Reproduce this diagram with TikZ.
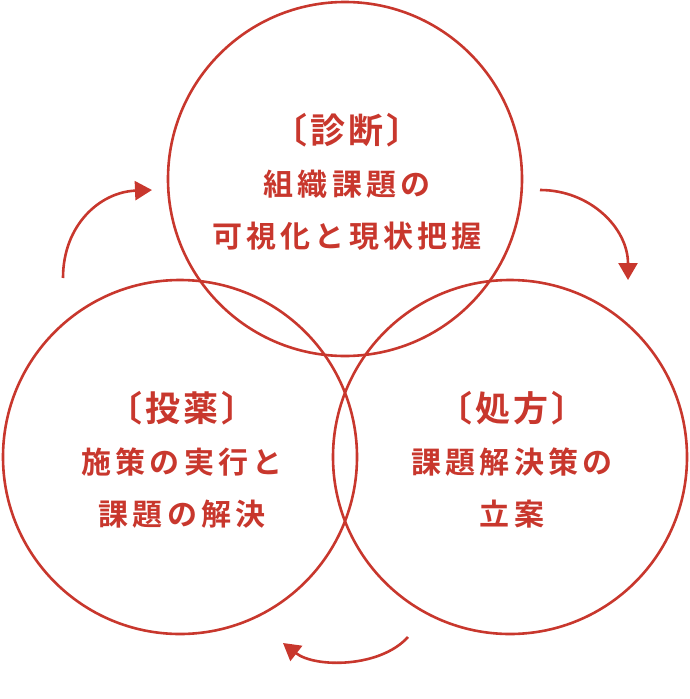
\documentclass[tikz,border=0pt]{standalone}
\usepackage{fontspec}
\newfontfamily\cjk{Noto Sans CJK JP}[BoldFont={Noto Sans CJK JP Bold}, LetterSpace=14]
\newfontfamily\cjkhead{Noto Sans CJK JP}[BoldFont={Noto Sans CJK JP Bold}, LetterSpace=8]
\usetikzlibrary{arrows.meta}
\definecolor{stepred}{HTML}{C8372D}
\newcommand{\headline}[1]{{\cjkhead\bfseries\fontsize{35}{38}\selectfont #1}}

\begin{document}
\begin{tikzpicture}[x=1pt,y=-1pt]
\tikzset{ring/.style={draw=stepred, line width=2.6pt, circle, minimum size=354pt, inner sep=0pt},
  label text/.style={text=stepred, font=\cjk\bfseries\fontsize{30}{52}\selectfont, align=center},
  cycle arrow/.style={draw=stepred, line width=2.6pt, -{Triangle[length=17pt,width=19pt]}}
}
\useasboundingbox (0,0) rectangle (690,699);
% three circles
\node[ring] (diag) at (345,179) {};
\node[ring] (med) at (180,457) {};
\node[ring] (pres) at (510,457) {};
% texts
\node[label text] (diagtext) at (347,182) {\headline{〔診断〕}\\組織課題の\\可視化と現状把握};
\node[label text] (medtext) at (182,460) {\headline{〔投薬〕}\\施策の実行と\\課題の解決};
\node[label text] (prestext) at (512,460) {\headline{〔処方〕}\\課題解決策の\\立案};
% arrows
\coordinate (a1s) at (63,278); \coordinate (a1e) at (152,190);
\coordinate (a2s) at (540,190); \coordinate (a2e) at (628,280);
\coordinate (a3s) at (408,637); \coordinate (a3e) at (283,643);
\draw[cycle arrow] (a1s) .. controls (63,225) and (100,192) .. (a1e);
\draw[cycle arrow] (a2s) .. controls (590,190) and (628,228) .. (a2e);
\draw[cycle arrow] (a3s) .. controls (380,668) and (315,668) .. (a3e);
\end{tikzpicture}
\end{document}
